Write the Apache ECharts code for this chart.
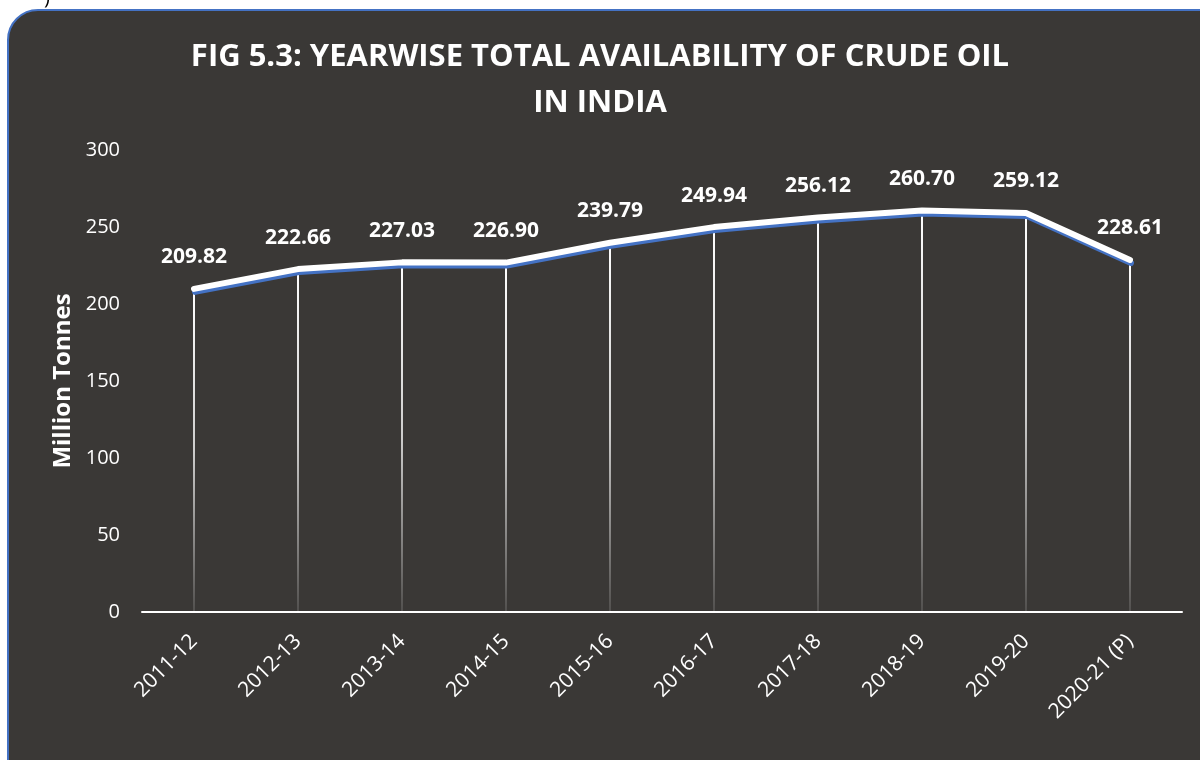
<!DOCTYPE html>
<html>
<head>
<meta charset="utf-8">
<title>Crude oil availability</title>
<script src="https://cdn.jsdelivr.net/npm/echarts@6/dist/echarts.min.js"></script>
<style>
  html, body { margin: 0; padding: 0; background: #ffffff; }
  #chart { width: 1200px; height: 760px; }
</style>
</head>
<body>
<div id="chart"></div>
<script>
var years = ['2011-12', '2012-13', '2013-14', '2014-15', '2015-16', '2016-17', '2017-18', '2018-19', '2019-20', '2020-21 (P)'];
var availability = [209.82, 222.66, 227.03, 226.90, 239.79, 249.94, 256.12, 260.70, 259.12, 228.61];
var yTicks = [0, 50, 100, 150, 200, 250, 300];

var chart = echarts.init(document.getElementById('chart'));

var option = {
  backgroundColor: '#ffffff',
  textStyle: { fontFamily: 'Open Sans' },
  graphic: [
    {
      type: 'rect', z: -10, silent: true,
      shape: { x: 8, y: 10, width: 1230, height: 790, r: 30 },
      style: { fill: '#3a3836', stroke: '#4472c4', lineWidth: 2 }
    },
    {
      type: 'text', left: 44, top: -12, silent: true,
      style: { text: ')', fill: '#000000', font: '20px "Open Sans"' }
    }
  ],
  title: {
    text: 'FIG 5.3: YEARWISE TOTAL AVAILABILITY OF CRUDE OIL\nIN INDIA',
    left: 'center',
    top: 29,
    textStyle: {
      color: '#ffffff',
      fontFamily: 'Open Sans',
      fontWeight: 'bold',
      fontSize: 31,
      lineHeight: 46
    }
  },
  grid: { left: 142, right: 18, top: 150, bottom: 148, outerBoundsMode: 'none' },
  xAxis: {
    type: 'category',
    data: years,
    boundaryGap: true,
    axisLine: { lineStyle: { color: '#ffffff', width: 2 } },
    axisTick: { show: false },
    axisLabel: {
      color: '#ffffff',
      fontSize: 21,
      rotate: 45,
      margin: 26,
      interval: 0
    }
  },
  yAxis: {
    type: 'value',
    min: yTicks[0],
    max: yTicks[yTicks.length - 1],
    interval: 50,
    name: 'Million Tonnes',
    nameLocation: 'middle',
    nameGap: 66,
    nameTextStyle: { color: '#ffffff', fontWeight: 'bold', fontSize: 24 },
    axisLine: { show: false },
    axisTick: { show: false },
    splitLine: { show: false },
    axisLabel: { color: '#ffffff', fontSize: 20, margin: 22 }
  },
  series: [
    {
      type: 'bar',
      data: availability,
      barWidth: 2,
      silent: true,
      z: 1,
      itemStyle: {
        color: new echarts.graphic.LinearGradient(0, 0, 0, 1, [
          { offset: 0, color: 'rgba(255,255,255,1)' },
          { offset: 0.5, color: 'rgba(255,255,255,0.75)' },
          { offset: 1, color: 'rgba(255,255,255,0.12)' }
        ])
      }
    },
    {
      type: 'line',
      data: availability,
      z: 5,
      symbol: 'circle',
      symbolSize: 2,
      itemStyle: { color: '#ffffff' },
      lineStyle: {
        color: '#ffffff',
        width: 6,
        cap: 'round',
        join: 'round',
        shadowColor: '#4472c4',
        shadowBlur: 0,
        shadowOffsetX: 1,
        shadowOffsetY: 3
      },
      label: {
        show: true,
        position: 'top',
        distance: 20,
        color: '#ffffff',
        fontWeight: 'bold',
        fontSize: 21,
        formatter: function (p) { return p.value.toFixed(2); }
      }
    }
  ]
};

chart.setOption(option);
</script>
</body>
</html>
